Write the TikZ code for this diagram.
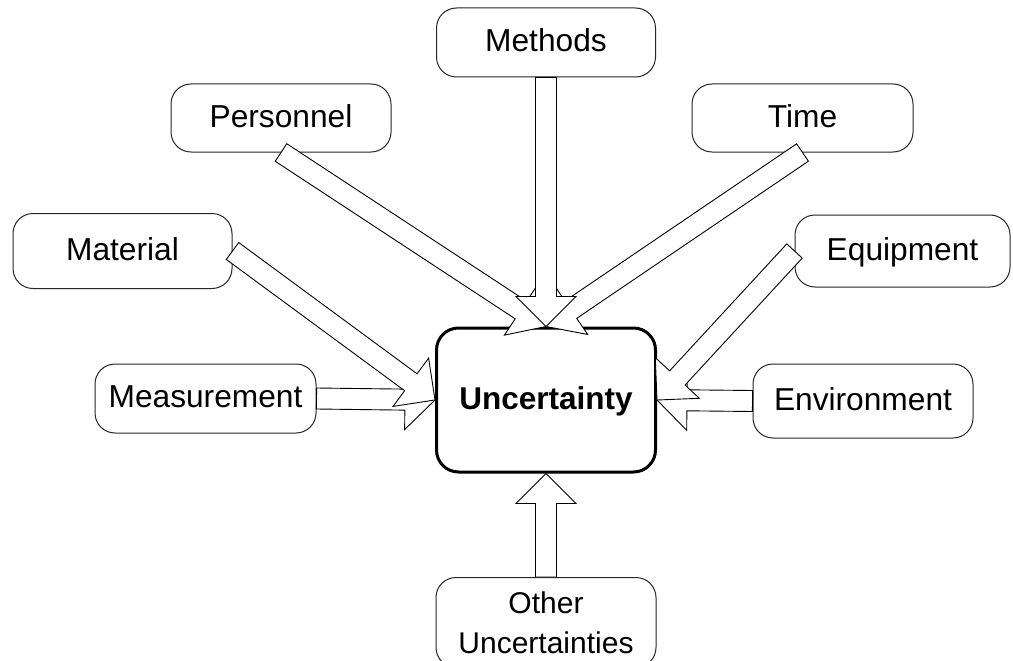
\documentclass[tikz,border=0pt]{standalone}
\usepackage{fontspec}
\setmainfont{Liberation Sans}
\usetikzlibrary{calc}

% Hollow block arrow from #1 (tail) to #2 (tip)
\newcommand\blockarrow[2]{%
  \coordinate (hb) at ($(#2)!30pt!(#1)$);
  \draw[arrowbody]
    ($(#1)!10.5pt!90:(#2)$) -- ($(hb)!10.5pt!90:(#2)$) -- ($(hb)!30pt!90:(#2)$)
    -- (#2)
    -- ($(hb)!30pt!-90:(#2)$) -- ($(hb)!10.5pt!-90:(#2)$) -- ($(#1)!10.5pt!-90:(#2)$)
    -- cycle;}

\begin{document}
\begin{tikzpicture}[x=1pt,y=-1pt,
  factor/.style={draw=black!85, line width=1pt, fill=white, rounded corners=20pt,
    inner sep=0pt, text height=22.7pt, text depth=4pt,
    font=\fontsize{31.7pt}{38pt}\selectfont},
  centre/.style={draw=black, line width=3pt, fill=white, rounded corners=22pt,
    inner sep=0pt, text height=22.7pt, text depth=4pt,
    minimum width=219pt, minimum height=144pt,
    font=\fontsize{31.5pt}{38pt}\selectfont\bfseries},
  arrowbody/.style={draw=black, line width=0.9pt, fill=white, line join=miter},
  lbl/.style={inner sep=0pt, align=center, font=\fontsize{30pt}{39.5pt}\selectfont}]

\useasboundingbox (0,0) rectangle (1013,661);

% surrounding factors
\node[factor, minimum width=219pt, minimum height=69pt] (meth)  at (546,42.5)  {Methods};
\node[factor, minimum width=220pt, minimum height=68pt] (pers)  at (281,118)   {Personnel};
\node[factor, minimum width=221pt, minimum height=68pt] (time)  at (802.5,118) {Time};
\node[factor, minimum width=219pt, minimum height=75pt] (mat)   at (122.5,251) {Material};
\node[factor, minimum width=215pt, minimum height=72pt] (equip) at (902.5,251) {Equipment};
\node[factor, minimum width=221pt, minimum height=69pt] (meas)  at (205.5,398.5) {Measurement};
\node[factor, minimum width=220pt, minimum height=74pt] (env)   at (863,401)   {Environment};
\node[factor, minimum width=220pt, minimum height=90pt, anchor=north] (other) at (546,577) {};
\node[lbl] (othertext) at (546,623) {Other\\Uncertainties};

% central result
\node[centre] (unc) at (546,400) {Uncertainty};

% contributions
\blockarrow{meas.east}{unc.west}
\blockarrow{env.west}{unc.east}
\blockarrow{pers.south}{unc.north}
\blockarrow{time.south}{unc.north}
\blockarrow{other.north}{unc.south}
\blockarrow{mat.east}{unc.west}
\blockarrow{equip.west}{unc.east}
\blockarrow{meth.south}{unc.north}
\end{tikzpicture}
\end{document}
